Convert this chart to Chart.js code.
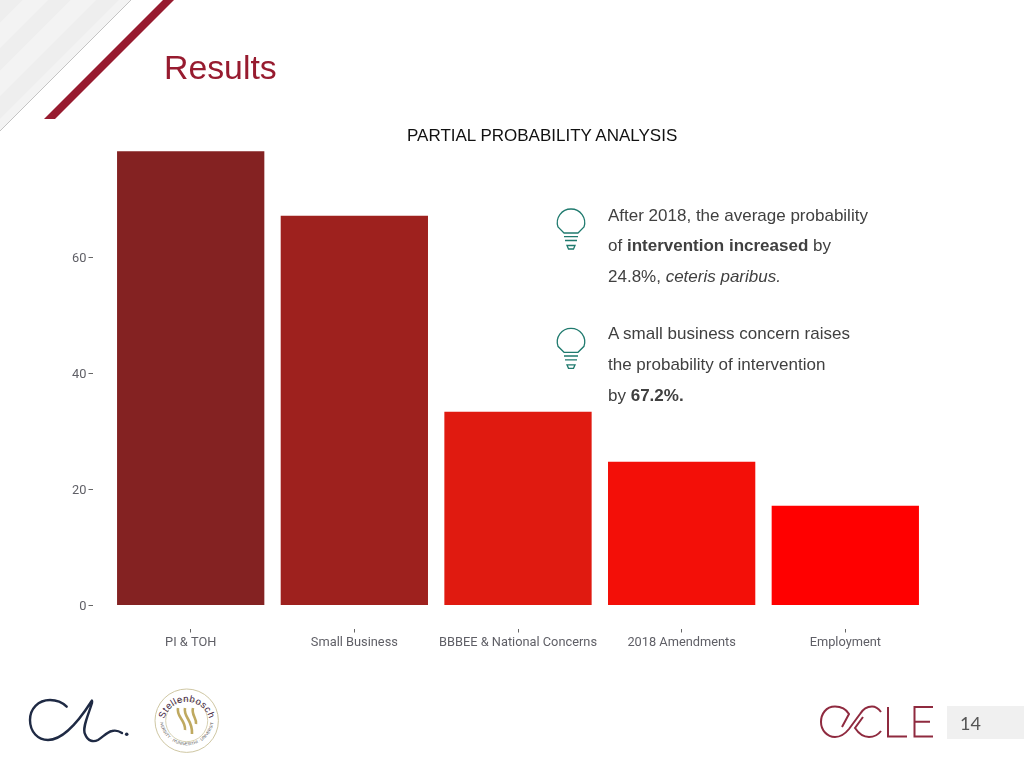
<!DOCTYPE html>
<html>
<head>
<meta charset="utf-8">
<title>Results</title>
<script src="https://cdn.jsdelivr.net/npm/chart.js@4/dist/chart.umd.js"></script>
<style>
  html, body { margin: 0; padding: 0; background: #fff; }
  #page { position: relative; width: 1024px; height: 768px; overflow: hidden; font-family: "Liberation Sans", Arial, sans-serif; }
  #page canvas, #page svg, .txt { position: absolute; }
  .txt { white-space: nowrap; color: #404040; font-size: 17px; line-height: 20px; }
  .title { left: 164px; top: 46px; font-size: 33.800px; line-height: 42px; color: #971b2f; }
  .sub { left: 407px; top: 126px; color: #111; }
  .pageno { left: 960px; top: 713px; font-family: "Lato", sans-serif; font-size: 18px; color: #555; }
</style>
</head>
<body>
<div id="page">
  <!-- slide decoration -->
  <svg width="1024" height="768" viewBox="0 0 1024 768">
    <defs>
      <pattern id="stripes" width="34" height="34" patternUnits="userSpaceOnUse" patternTransform="rotate(-45)">
        <rect width="34" height="34" fill="#f3f3f3"/>
        <rect width="34" height="16" fill="#eeeeee"/>
      </pattern>
      <g id="bulb" fill="none" stroke="#1f7a6e" stroke-width="1.300">
        <path d="M564 233 L558 227 A13.700 13.700 0 1 1 584 227 L578 233 Z"/>
        <path d="M564 236.700 H578 M565 240.500 H577"/>
        <path d="M567 245.500 H575 L573.500 249 H568.500 Z"/>
      </g>
    </defs>
    <polygon points="0,0 131,0 0,131" fill="url(#stripes)"/>
    <line x1="131" y1="0" x2="0" y2="131" stroke="#c4c4c4" stroke-width="1"/>
    <polygon points="163,0 174,0 55,119 44,119" fill="#971b2f"/>
    <!-- bulbs -->
    <use href="#bulb"/>
    <use href="#bulb" transform="translate(0 119.300)"/>
    <!-- signature -->
    <path d="M66.700 706.700 C61 701 55 700 50 700 C38 700 30 709 30 720 C30 732 38 740 48 740 C65 740 82 716 91 702 C92 700 92.500 700 92 703 C88 716 82 728 85 734 C88 742 94 742 98 740 C103 737 107 732 112 731 C116 730 119 731 122 733" fill="none" stroke="#1f2a44" stroke-width="2.400" stroke-linecap="round"/>
    <circle cx="126.700" cy="734.300" r="1.800" fill="#1f2a44"/>
    <!-- university seal -->
    <circle cx="186.700" cy="720.700" r="31.700" fill="#fff" stroke="#cfc7a3" stroke-width="1"/>
    <circle cx="186.700" cy="720.700" r="21" fill="#fff" stroke="#d8d2b4" stroke-width="1"/>
    <path id="sealTop" d="M163.500 722 A23.500 23.500 0 0 1 210 722" fill="none"/>
    <path id="sealBottom" d="M160 722 A27 27 0 0 0 213.500 722" fill="none"/>
    <text font-family="Liberation Sans" font-size="9.500" fill="#3d2340" letter-spacing="0.500" text-anchor="middle"><textPath href="#sealTop" startOffset="50%">Stellenbosch</textPath></text>
    <text font-family="Liberation Sans" font-size="4.200" fill="#555" text-anchor="middle"><textPath href="#sealBottom" startOffset="50%">UNIVERSITY · IYUNIVESITHI · UNIVERSITEIT</textPath></text>
    <path d="M178 708 C176 717 186 720 185 730 M185 708 C183 717 193 720 192 734 M193 708 C191 715 197 718 196 724" fill="none" stroke="#bfa960" stroke-width="2.600"/>
    <!-- CCLE mark -->
    <g fill="none" stroke="#8f2a3f" stroke-width="2">
      <path d="M842 727 L849 714 C846 709 841 706.500 835 706.500 C826 706.500 821 714 821 722 C821 730 827 737 835 737 C841 737 845 734 849 729 L860 714 C863 709 868 706.500 872 706.500 C875 706.500 878 708 881 712"/>
      <path d="M881 731 C878 735 874 737 869 737 C864 737 859 734 855 728 L863 717"/>
      <path d="M888 707 V736.500 H907 M933 707 H914.500 V736.500 H933 M914.500 721.700 H930"/>
    </g>
    <rect x="947" y="706" width="77" height="33" fill="#f0f0f0"/>
  </svg>

  <canvas id="resultsChart" width="1024" height="768"></canvas>

  <div class="txt title">Results</div>
  <div class="txt sub">PARTIAL PROBABILITY ANALYSIS</div>

  <div class="txt" style="left:608px;top:206px">After 2018, the average probability</div>
  <div class="txt" style="left:608px;top:236px">of <b>intervention increased</b> by</div>
  <div class="txt" style="left:608px;top:267px">24.8%, <i>ceteris paribus.</i></div>

  <div class="txt" style="left:608px;top:324px">A small business concern raises</div>
  <div class="txt" style="left:608px;top:355px">the probability of intervention</div>
  <div class="txt" style="left:608px;top:386px">by <b>67.2%.</b></div>

  <div class="txt pageno">14</div>
</div>

<script>
// Data
const categories = ['PI & TOH', 'Small Business', 'BBBEE & National Concerns', '2018 Amendments', 'Employment'];
const values = [78.3, 67.2, 33.4, 24.8, 17.2];
const barColors = ['#842222', '#9e211e', '#e01a10', '#f30f08', '#ff0000'];
const yTicks = [0, 20, 40, 60];
const xPositions = [0, 1, 2, 3, 4];

const tickFont = { family: 'Roboto', size: 12.8 };
const tickColor = '#5f5f66';

new Chart(document.getElementById('resultsChart'), {
    type: 'bar',
    data: {
        datasets: [{
            data: xPositions.map(function (x) { return { x: x, y: values[x] }; }),
            backgroundColor: barColors,
            borderWidth: 0,
            categoryPercentage: 1,
            barPercentage: 0.9
        }]
    },
    options: {
        responsive: false,
        animation: false,
        devicePixelRatio: 1,
        layout: { padding: { top: 128.5, right: 80.5, left: 0, bottom: 0 } },
        plugins: { legend: { display: false }, tooltip: { enabled: false } },
        scales: {
            x: {
                type: 'linear',
                offset: false,
                min: -0.6,
                max: 4.6,
                afterFit: function (scale) { scale.height = 139.5; },
                afterBuildTicks: function (scale) {
                    scale.ticks = xPositions.map(function (x) { return { value: x }; });
                },
                border: { display: false },
                grid: { offset: false, drawOnChartArea: false, drawTicks: true, tickLength: 4, tickColor: '#666', tickWidth: 1 },
                ticks: {
                    font: tickFont,
                    color: tickColor,
                    padding: 3,
                    maxRotation: 0,
                    autoSkip: false,
                    callback: function (value) { return categories[value]; }
                }
            },
            y: {
                min: -3.97,
                max: 82.24,
                afterFit: function (scale) { scale.width = 92.5; },
                afterBuildTicks: function (scale) {
                    scale.ticks = yTicks.map(function (v) { return { value: v }; });
                },
                border: { display: false },
                grid: { drawOnChartArea: false, drawTicks: true, tickLength: 4, tickColor: '#666', tickWidth: 1 },
                ticks: { font: tickFont, color: tickColor, padding: 2, labelOffset: 1.5 }
            }
        }
    }
});
</script>
</body>
</html>
